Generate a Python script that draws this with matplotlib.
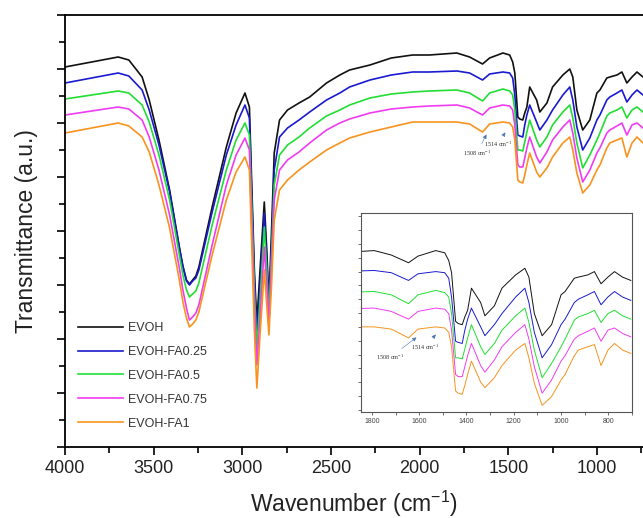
import matplotlib
matplotlib.use("Agg")
import matplotlib.pyplot as plt
from matplotlib.ticker import MultipleLocator

plt.rcParams['font.family'] = ['Liberation Sans', 'DejaVu Sans']
plt.rcParams['mathtext.default'] = 'regular'

# wavenumber grid (cm-1)
wavenumber = [4000, 3850, 3700, 3640, 3565, 3525, 3470, 3410, 3355, 3335,
              3315, 3298, 3280, 3262, 3245, 3170, 3090, 3035, 2985, 2960,
              2932, 2918, 2900, 2876, 2862, 2850, 2835, 2820, 2790, 2745,
              2680, 2620, 2525, 2450, 2395, 2280, 2160, 2040, 1945, 1790,
              1718, 1645, 1605, 1530, 1492, 1475, 1463, 1446, 1435, 1418,
              1407, 1395, 1379, 1340, 1322, 1282, 1250, 1192, 1153, 1136,
              1113, 1080, 1040, 1000, 983, 944, 927, 887, 859, 831,
              802, 774, 740, 705]

# transmittance (a.u., stacked spectra)
evoh = [380, 385, 390, 387, 370, 347, 307, 257, 200, 181,
        167, 163, 167, 171, 180, 240, 300, 334, 354, 340,
        177, 124, 177, 245, 197, 144, 217, 294, 327, 337,
        344, 350, 364, 372, 377, 382, 389, 392, 392, 394,
        390, 383, 389, 394, 392, 385, 374, 330, 328, 327,
        334, 340, 360, 347, 335, 344, 360, 372, 378, 370,
        337, 317, 327, 354, 357, 369, 370, 372, 375, 364,
        370, 375, 370, 367]
evoh_fa025 = [364, 369, 374, 371, 357, 337, 302, 255, 199, 180,
              166, 162, 166, 169, 177, 235, 292, 322, 342, 329,
              167, 112, 162, 234, 187, 137, 202, 277, 310, 319,
              327, 335, 347, 354, 360, 367, 372, 375, 375, 376,
              374, 367, 373, 375, 374, 369, 352, 312, 311, 310,
              322, 332, 342, 325, 317, 327, 337, 352, 360, 347,
              320, 297, 309, 327, 332, 347, 350, 354, 357, 345,
              352, 357, 352, 349]
evoh_fa05 = [348, 352, 356, 354, 342, 325, 292, 247, 192, 172,
             157, 150, 153, 156, 164, 222, 277, 307, 324, 312,
             157, 99, 147, 220, 177, 129, 192, 262, 292, 302,
             310, 319, 331, 337, 342, 349, 353, 355, 356, 357,
             354, 346, 354, 358, 356, 352, 337, 297, 297, 296,
             305, 315, 327, 307, 300, 310, 322, 335, 342, 329,
             304, 279, 292, 307, 314, 331, 334, 337, 340, 329,
             337, 340, 335, 332]
evoh_fa075 = [332, 336, 340, 338, 327, 310, 277, 232, 179, 157,
              139, 127, 130, 134, 142, 202, 262, 292, 309, 297,
              142, 82, 129, 200, 162, 122, 182, 247, 277, 287,
              295, 304, 317, 324, 328, 334, 338, 340, 341, 342,
              339, 332, 339, 342, 341, 337, 322, 282, 280, 280,
              289, 299, 310, 290, 284, 295, 307, 320, 327, 314,
              289, 265, 277, 294, 299, 314, 317, 321, 324, 312,
              322, 324, 319, 316]
evoh_fa1 = [314, 319, 324, 321, 310, 295, 262, 219, 167, 145,
            129, 120, 123, 127, 135, 192, 247, 275, 290, 277,
            117, 59, 112, 177, 142, 112, 162, 227, 257, 267,
            277, 285, 297, 304, 309, 315, 320, 325, 325, 325,
            323, 315, 323, 325, 324, 320, 307, 267, 265, 264,
            272, 282, 294, 275, 270, 279, 290, 304, 310, 297,
            274, 254, 262, 277, 282, 299, 304, 307, 309, 290,
            304, 310, 304, 301]

labels = ['EVOH', 'EVOH-FA0.25', 'EVOH-FA0.5', 'EVOH-FA0.75', 'EVOH-FA1']
colors = ['#111111', '#1a1ad0', '#22dd33', '#f03cf0', '#f7931e']
spectra = [evoh, evoh_fa025, evoh_fa05, evoh_fa075, evoh_fa1]

fig = plt.figure(figsize=(6.43, 5.18), dpi=100)
ax = fig.add_axes([65 / 643, 71 / 518, 578 / 643, 432 / 518])

for lab, ys, c in zip(labels, spectra, colors):
    ax.plot(wavenumber, ys, color=c, lw=1.2, label=lab)

ax.set_xlim(4000, 740)
ax.set_ylim(0, 432)
ax.spines['right'].set_visible(False)
for s in ['left', 'bottom', 'top']:
    ax.spines[s].set_linewidth(1.3)
ax.xaxis.set_major_locator(MultipleLocator(500))
ax.xaxis.set_minor_locator(MultipleLocator(250))
ax.yaxis.set_major_locator(MultipleLocator(54))
ax.yaxis.set_minor_locator(MultipleLocator(27))
ax.tick_params(axis='both', which='major', direction='out', length=6, width=1.2,
               labelsize=13, labelcolor='#222222')
ax.tick_params(axis='both', which='minor', direction='out', length=4, width=1.2)
ax.tick_params(axis='y', labelleft=False)
ax.set_xlabel('Wavenumber (cm$^{-1}$)', fontsize=16.5, color='#222222', labelpad=8)
ax.set_ylabel('Transmittance (a.u.)', fontsize=16.5, color='#222222', labelpad=12)

leg = ax.legend(loc='lower left', bbox_to_anchor=(0.012, 0.026), frameon=False,
                fontsize=9, handlelength=3.6, labelspacing=0.95, handletextpad=0.4,
                borderpad=0)
for t in leg.get_texts():
    t.set_color('#333333')

ann_kw = dict(fontsize=4.5, family='Liberation Serif', color='#333333', ha='center')
arrow_kw = dict(arrowstyle='-|>', color='#4a78b0', lw=0.4, mutation_scale=6)
ax.annotate('1508 cm$^{-1}$', xy=(1616, 315), xytext=(1678, 291),
            arrowprops=arrow_kw, **ann_kw)
ax.annotate('1514 cm$^{-1}$', xy=(1508, 317), xytext=(1559, 300),
            arrowprops=arrow_kw, **ann_kw)

# inset: zoom of the fingerprint region
axin = fig.add_axes([361 / 643, 106 / 518, 271 / 643, 199 / 518])
for ys, c in zip(spectra, colors):
    axin.plot(wavenumber, ys, color=c, lw=0.7)
axin.set_xlim(1846, 700)
axin.set_ylim(248, 428)
axin.xaxis.set_major_locator(MultipleLocator(200))
axin.xaxis.set_minor_locator(MultipleLocator(100))
axin.yaxis.set_major_locator(MultipleLocator(25))
axin.yaxis.set_minor_locator(MultipleLocator(12.5))
for s in axin.spines.values():
    s.set_linewidth(0.8)
    s.set_color('#555555')
axin.tick_params(axis='both', which='both', direction='out', length=2, width=0.6,
                 labelsize=5, labelcolor='#444444', pad=2, color='#555555')
axin.tick_params(axis='y', labelleft=False)
axin.annotate('1508 cm$^{-1}$', xy=(1602, 317), xytext=(1724, 295),
              arrowprops=arrow_kw, **ann_kw)
axin.annotate('1514 cm$^{-1}$', xy=(1522, 320), xytext=(1577, 304),
              arrowprops=arrow_kw, **ann_kw)

fig.savefig('out.png', dpi=100)
